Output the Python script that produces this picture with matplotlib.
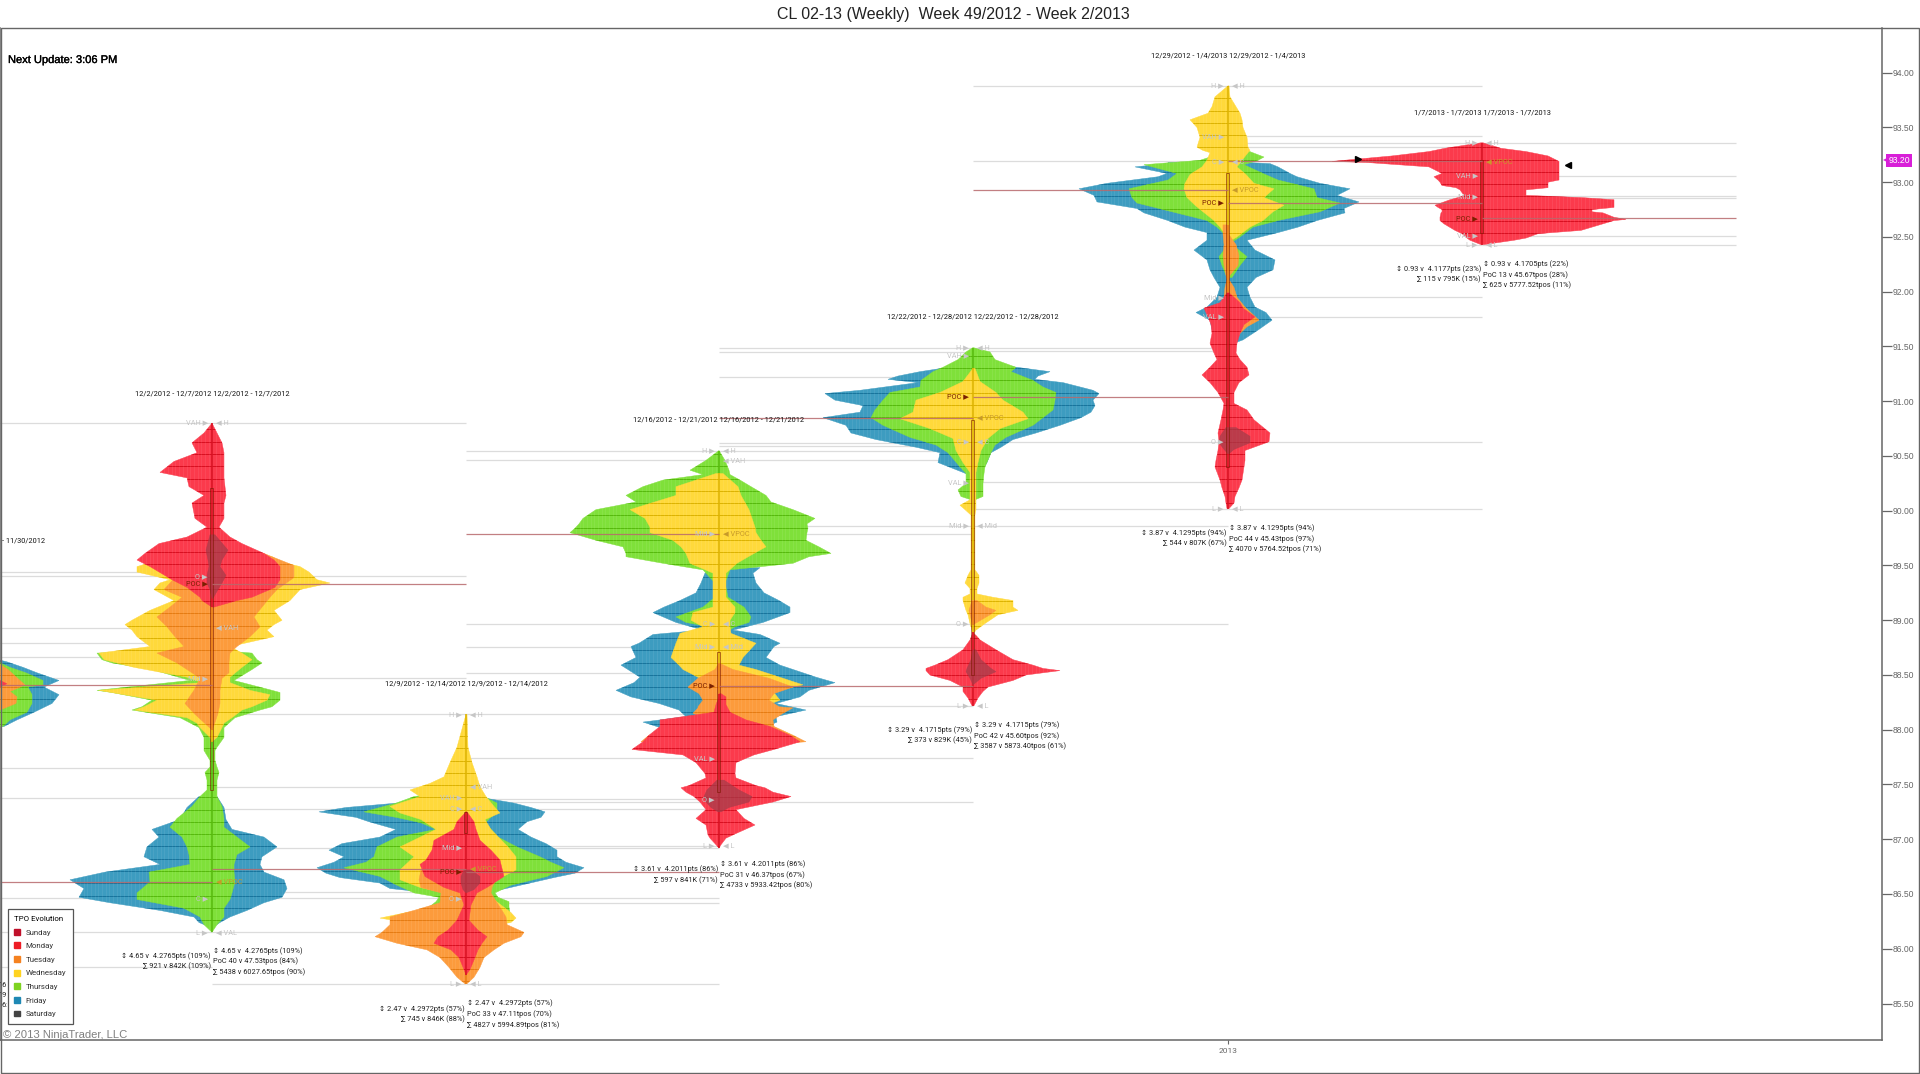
import numpy as np
import matplotlib
matplotlib.use("Agg")
import matplotlib.pyplot as plt
import matplotlib.patheffects as pe
from matplotlib.patches import Patch, Rectangle

plt.rcParams['font.family'] = ['Roboto', 'DejaVu Sans']

TITLE = "CL 02-13 (Weekly)  Week 49/2012 - Week 2/2013"
NEXT_UPDATE = "Next Update: 3:06 PM"
COPYRIGHT = "\u00a9 2013 NinjaTrader, LLC"
LEGEND_TITLE = "TPO Evolution"
DAYS = ["Sunday", "Monday", "Tuesday", "Wednesday", "Thursday", "Friday", "Saturday"]
PRICE_TICKS = [85.5, 86.0, 86.5, 87.0, 87.5, 88.0, 88.5, 89.0, 89.5, 90.0, 90.5, 91.0, 91.5, 92.0, 92.5, 93.0, 93.5, 94.0]
LAST_PRICE = 93.20
SESSION_SLOTS = [-42, 212, 466, 719, 973, 1228, 1482]

# each row: price, width left of centre, width right of centre
P0_FRI = [(88.64,40,40),(88.62,49,49),(88.57,65,65),(88.52,79,79),(88.45,101,101),(88.39,86,86),(88.32,101,101),(88.24,94,94),(88.16,76,76),(88.09,59,59),(88.03,46,46),(88.02,0,0)]
P0_THU = [(88.62,40,40),(88.57,52,52),(88.52,68,68),(88.45,85,85),(88.41,85,85),(88.39,70,70),(88.32,74,74),(88.24,74,74),(88.16,69,69),(88.09,52,52),(88.03,45,45),(88.02,0,0)]
P0_TUE = [(88.61,40,40),(88.55,50,50),(88.45,62,62),(88.41,67,67),(88.38,60,60),(88.35,52,52),(88.30,59,59),(88.24,58,58),(88.18,42,42),(88.15,0,0)]
P0_MON = [(88.45,42,42),(88.42,49,49),(88.39,42,42)]

P1_FRI = [(87.39,13,5),(87.29,25,12),(87.18,32,14),(87.09,60,20),(87.02,53,52),(86.93,65,65),(86.84,68,50),(86.77,52,48),(86.70,107,52),(86.63,142,72),(86.55,128,75),(86.47,133,70),(86.42,102,52),(86.35,52,35),(86.29,18,18),(86.24,13,8),(86.19,0,0)]
P1_THU = [(88.73,0,0),(88.70,115,40),(88.64,110,45),(88.61,100,50),(88.55,60,40),(88.45,22,22),(88.36,115,60),(88.34,100,68),(88.27,60,68),(88.21,70,60),(88.18,80,48),(88.11,32,23),(88.02,13,12),(87.93,8,12),(87.84,8,5),(87.81,8,3),(87.72,2,3),(87.66,2,5),(87.61,7,7),(87.54,5,5),(87.45,5,5),(87.39,12,5),(87.30,20,10),(87.19,35,12),(87.11,42,12),(87.02,30,25),(86.93,25,38),(86.86,23,25),(86.77,22,22),(86.70,63,22),(86.61,62,23),(86.51,75,20),(86.45,75,18),(86.37,28,12),(86.29,12,12),(86.22,8,5),(86.15,0,0)]
P1_WED = [(89.58,0,60),(89.53,60,70),(89.49,75,88),(89.44,75,97),(89.37,42,105),(89.34,52,118),(89.28,58,88),(89.18,38,78),(89.09,62,62),(89.00,80,70),(88.96,87,62),(88.91,80,55),(88.85,75,62),(88.76,62,18),(88.70,113,30),(88.64,108,40),(88.57,78,30),(88.48,25,18),(88.43,10,18),(88.36,113,38),(88.32,88,58),(88.27,55,55),(88.21,68,40),(88.18,77,30),(88.11,25,20),(88.06,15,12),(88.02,12,10),(87.93,2,5),(87.89,0,0)]
P1_TUE = [(89.61,0,52),(89.58,5,60),(89.50,30,82),(89.39,37,82),(89.28,48,65),(89.21,30,58),(89.12,42,50),(89.03,55,42),(88.94,45,48),(88.85,37,38),(88.76,28,25),(88.70,55,18),(88.61,35,17),(88.52,20,17),(88.47,12,10),(88.36,18,8),(88.24,27,8),(88.15,18,6),(88.04,5,2),(88.00,0,0)]
P1_MON = [(90.80,0,0),(90.71,8,5),(90.62,20,10),(90.53,15,12),(90.45,38,12),(90.35,52,12),(90.30,25,12),(90.22,23,13),(90.14,8,14),(90.07,20,12),(89.93,17,12),(89.85,5,7),(89.76,25,18),(89.70,53,30),(89.61,67,52),(89.55,75,62),(89.49,62,68),(89.37,40,68),(89.30,25,63),(89.21,12,40),(89.18,10,25),(89.12,0,2)]
P1_SUN = [(89.78,2,3),(89.64,6,16),(89.55,4,10),(89.49,3,8),(89.41,5,14),(89.34,5,10),(89.28,2,6),(89.20,0,1)]

P2_FRI = [(87.39,10,10),(87.33,69,48),(87.29,120,65),(87.25,147,79),(87.20,110,75),(87.16,97,61),(87.09,70,52),(87.02,86,65),(86.96,124,80),(86.90,137,91),(86.84,122,91),(86.79,132,100),(86.74,149,118),(86.69,140,109),(86.65,126,88),(86.60,86,64),(86.55,76,40),(86.51,35,20),(86.49,0,0)]
P2_THU = [(87.42,30,15),(87.39,52,18),(87.33,70,31),(87.25,102,31),(87.20,70,25),(87.15,45,19),(87.09,30,25),(87.02,69,32),(86.93,89,51),(86.84,92,74),(86.79,100,85),(86.74,122,98),(86.66,86,81),(86.58,69,45),(86.51,52,29),(86.47,27,32),(86.43,30,43),(86.38,37,43),(86.33,19,44),(86.26,5,45),(86.21,0,10),(86.19,0,0)]
P2_WED = [(88.14,0,1),(87.84,9,2),(87.70,16,6),(87.57,22,11),(87.51,36,13),(87.45,56,16),(87.39,46,20),(87.30,76,28),(87.24,66,34),(87.18,45,19),(87.09,30,25),(86.93,66,42),(86.84,52,50),(86.72,66,50),(86.63,66,31),(86.56,46,21),(86.51,22,14),(86.47,10,25),(86.40,10,35),(86.33,60,45),(86.28,86,50),(86.24,60,45),(86.19,20,15),(86.15,0,0)]
P2_TUE = [(86.72,45,25),(86.63,47,30),(86.56,45,26),(86.51,25,25),(86.42,26,31),(86.35,52,36),(86.29,76,40),(86.22,76,41),(86.15,84,58),(86.11,91,55),(86.05,69,38),(85.99,39,28),(85.92,26,18),(85.83,17,14),(85.74,9,8),(85.68,1,1)]
P2_MON = [(87.25,0,1),(87.16,9,8),(87.09,12,10),(86.99,32,14),(86.90,34,25),(86.81,40,34),(86.77,46,35),(86.66,41,38),(86.56,22,21),(86.51,6,11),(86.40,2,5),(86.26,9,3),(86.17,18,12),(86.11,28,21),(86.05,32,16),(85.99,15,12),(85.92,7,9),(85.81,2,4),(85.76,0,0)]
P2_SUN = [(86.72,2,5),(86.66,5,14),(86.60,5,14),(86.54,3,8),(86.51,0,0)]

P3_FRI = [(89.48,8,41),(89.43,14,34),(89.34,18,37),(89.25,23,45),(89.18,39,60),(89.12,55,71),(89.07,66,71),(88.98,43,44),(88.91,16,14),(88.87,66,41),(88.79,80,61),(88.76,88,55),(88.66,83,47),(88.59,98,61),(88.48,79,97),(88.43,85,116),(88.36,103,90),(88.30,88,81),(88.24,60,57),(88.18,40,87),(88.12,33,57),(88.07,76,58),(88.02,59,45),(87.97,30,30),(87.92,0,0)]
P3_THU = [(90.55,0,0),(90.46,13,6),(90.37,29,10),(90.33,16,11),(90.28,56,21),(90.22,76,32),(90.14,93,47),(90.08,83,52),(90.01,123,74),(89.93,136,96),(89.88,140,88),(89.84,144,89),(89.80,149,88),(89.73,123,87),(89.67,96,100),(89.61,93,112),(89.58,93,90),(89.52,56,74),(89.46,16,11),(89.34,4,6),(89.21,4,9),(89.12,16,25),(89.03,43,32),(88.98,33,30),(88.94,10,16),(88.89,3,7),(88.86,0,0)]
P3_WED = [(90.34,3,4),(90.22,43,19),(90.14,43,22),(90.01,89,30),(89.93,74,33),(89.85,69,36),(89.80,69,37),(89.73,46,42),(89.67,38,47),(89.61,33,35),(89.52,29,18),(89.43,6,7),(89.21,6,7),(89.12,6,16),(89.07,26,16),(89.00,28,11),(88.94,16,11),(88.88,39,12),(88.79,43,37),(88.66,48,24),(88.59,40,20),(88.55,36,37),(88.47,19,64),(88.41,25,84),(88.35,15,54),(88.27,10,61),(88.23,5,50),(88.20,0,0)]
P3_TUE = [(88.61,0,0),(88.55,4,14),(88.47,21,50),(88.39,31,74),(88.33,20,55),(88.27,16,50),(88.21,21,60),(88.20,21,74),(88.15,26,64),(88.09,10,54),(88.03,5,55),(87.95,70,74),(87.89,78,87),(87.86,60,40),(87.83,0,0)]
P3_MON = [(88.33,0,2),(88.30,0,7),(88.23,3,7),(88.16,5,11),(88.09,59,27),(88.03,59,51),(87.95,70,71),(87.89,76,81),(87.82,87,55),(87.77,36,35),(87.70,23,17),(87.60,14,16),(87.56,13,17),(87.49,30,37),(87.47,38,46),(87.43,33,54),(87.39,25,72),(87.34,19,54),(87.27,13,17),(87.19,23,25),(87.13,13,36),(87.04,11,14),(87.01,9,7),(86.95,3,2),(86.92,0,0)]
P3_SUN = [(87.54,2,5),(87.45,12,20),(87.39,15,33),(87.34,13,30),(87.29,8,10),(87.25,1,2)]

P4_FRI = [(91.33,10,27),(91.27,53,77),(91.23,75,65),(91.20,85,62),(91.17,55,90),(91.10,113,120),(91.07,148,126),(91.01,138,120),(90.96,110,122),(90.90,113,118),(90.85,150,108),(90.78,127,87),(90.71,122,63),(90.65,97,40),(90.58,57,28),(90.53,33,18),(90.44,35,14),(90.35,10,8),(90.31,0,0)]
P4_THU = [(91.49,0,0),(91.45,7,17),(91.38,15,22),(91.31,30,43),(91.27,40,38),(91.19,52,60),(91.13,53,70),(91.08,83,83),(91.01,90,82),(90.92,98,80),(90.85,102,70),(90.78,90,60),(90.67,63,33),(90.60,37,22),(90.53,25,18),(90.40,13,12),(90.34,7,11),(90.25,7,10),(90.19,15,10),(90.13,12,10),(90.10,2,2),(90.05,0,0)]
P4_WED = [(91.30,0,2),(91.18,10,7),(91.08,33,23),(91.01,57,30),(90.90,60,50),(90.84,73,55),(90.75,43,27),(90.66,20,15),(90.55,17,8),(90.44,10,5),(90.35,3,3),(90.10,3,3),(90.05,13,3),(90.01,8,3),(89.96,2,2),(89.46,2,2),(89.41,5,6),(89.34,8,6),(89.29,3,4),(89.24,3,4),(89.21,10,20),(89.18,10,40),(89.12,8,40),(89.09,7,45),(89.05,5,25),(88.97,3,12),(88.91,1,3),(88.87,0,0)]
P4_TUE = [(89.18,1,4),(89.12,3,13),(89.09,4,23),(89.05,3,17),(88.98,1,4),(88.96,0,0)]
P4_TUE_LOW = [(88.86,0,3),(88.77,1,12),(88.71,1,26),(88.66,0,0)]
P4_MON = [(88.89,0,0),(88.82,3,7),(88.73,10,23),(88.64,25,40),(88.59,38,60),(88.56,47,70),(88.54,47,87),(88.50,43,53),(88.45,23,40),(88.39,10,15),(88.35,10,10),(88.29,5,5),(88.22,1,1)]
P4_SUN = [(88.73,0,3),(88.64,2,8),(88.56,6,18),(88.53,7,23),(88.47,3,8),(88.41,0,0)]

P5_FRI = [(93.18,60,19),(93.17,60,42),(93.14,93,50),(93.08,61,62),(93.05,70,69),(92.99,121,92),(92.94,149,122),(92.88,134,109),(92.82,131,131),(92.76,91,116),(92.72,84,117),(92.65,60,89),(92.59,43,70),(92.54,21,50),(92.47,21,19),(92.38,34,27),(92.29,21,47),(92.20,18,45),(92.13,14,28),(92.04,8,19),(91.95,11,22),(91.86,21,27),(91.81,32,38),(91.74,18,44),(91.65,16,30),(91.56,14,15),(91.51,0,0)]
P5_THU = [(93.29,5,19),(93.23,18,36),(93.20,28,30),(93.16,84,16),(93.08,51,35),(93.02,60,50),(92.94,99,86),(92.86,96,89),(92.81,91,112),(92.73,56,92),(92.65,21,50),(92.59,11,25),(92.50,1,12),(92.44,1,2),(92.38,4,11),(92.32,9,19),(92.24,6,12),(92.13,1,4)]
P5_WED = [(93.88,0,1),(93.78,13,2),(93.69,16,8),(93.63,20,12),(93.57,38,14),(93.50,31,15),(93.41,28,19),(93.32,31,20),(93.29,25,22),(93.27,18,20),(93.20,21,14),(93.14,26,9),(93.07,38,18),(92.99,43,26),(92.94,44,46),(92.86,41,36),(92.79,33,56),(92.73,25,45),(92.65,14,35),(92.59,8,22),(92.50,1,9),(92.45,0,0)]
P5_TUE = [(92.61,5,0),(92.52,5,1),(92.43,4,8),(92.33,5,11),(92.24,4,10),(92.15,2,2),(92.11,1,1),(92.04,3,6),(91.95,4,9),(91.86,5,17),(91.74,8,31),(91.68,6,19),(91.62,2,12),(91.56,1,8),(91.51,0,0)]
P5_MON = [(91.99,1,1),(91.90,8,12),(91.85,24,15),(91.77,20,27),(91.70,17,16),(91.62,16,12),(91.53,18,9),(91.44,14,8),(91.38,11,12),(91.31,18,19),(91.24,26,21),(91.17,18,11),(91.08,10,6),(90.98,4,6),(90.92,5,19),(90.83,7,26),(90.71,10,42),(90.63,9,41),(90.55,10,17),(90.46,12,17),(90.40,13,16),(90.28,8,14),(90.21,6,11),(90.13,3,7),(90.07,2,6),(90.02,1,1)]
P5_SUN = [(90.76,2,8),(90.68,8,22),(90.62,9,22),(90.56,4,6),(90.52,0,1)]

P6_MON = [(93.36,1,1),(93.31,37,19),(93.28,53,44),(93.24,90,66),(93.19,150,77),(93.18,115,77),(93.14,53,77),(93.08,40,77),(93.05,48,77),(93.02,44,77),(93.00,42,66),(92.97,40,66),(92.95,26,66),(92.93,22,44),(92.88,18,44),(92.86,24,99),(92.84,32,132),(92.79,47,132),(92.77,44,132),(92.75,40,110),(92.73,40,110),(92.72,41,121),(92.68,42,132),(92.66,42,144),(92.65,42,132),(92.62,38,121),(92.56,27,99),(92.53,20,56),(92.49,15,44),(92.47,12,32),(92.43,1,2)]

GAP0_LEVELS = [90.80,89.44,89.40,88.93,88.79,88.66,88.47,87.65,87.38,86.46,86.15,85.83]
GAP0_POC = [88.41,86.61]
GAP1_LEVELS = [90.80,89.40,88.47,88.14,87.48,87.28,86.92,86.52,86.46,86.15,85.68]
GAP1_POC = [89.33,86.73]
GAP2_LEVELS = [90.55,90.46,88.97,88.76,88.52,88.14,87.74,87.37,87.34,87.28,86.94,86.92,86.46,86.42,85.68]
GAP2_POC = [89.79,86.70]
GAP3_LEVELS = [91.49,91.45,91.22,90.62,90.59,90.55,90.46,89.86,89.79,88.97,88.76,88.22,87.74,87.34]
GAP3_POC = [90.85,88.40]
GAP4_LEVELS = [93.88,93.19,91.49,91.46,90.63,90.26,90.02,89.86,88.97]
GAP4_POC = [92.93,91.04]
GAP5_LEVELS = [93.88,93.42,93.36,93.32,92.87,92.86,92.43,91.95,91.77,90.63,90.02]
GAP5_POC = [93.19,92.81]
GAP6_LEVELS = [93.36,93.06,92.87,92.86,92.51,92.43]
GAP6_POC = [92.67]

P1_LEFT_LABELS = [(90.80,"VAH"),(89.40,"O"),(89.33,"POC"),(88.47,"Mid"),(86.46,"C"),(86.15,"L")]
P1_RIGHT_LABELS = [(90.80,"H"),(88.93,"VAH"),(86.61,"VPOC"),(86.15,"VAL")]
P2_LEFT_LABELS = [(88.14,"H"),(87.38,"VAH"),(87.28,"C"),(86.92,"Mid"),(86.70,"POC"),(86.46,"O"),(85.68,"L")]
P2_RIGHT_LABELS = [(88.14,"H"),(87.48,"VAH"),(87.28,"C"),(86.73,"VPOC"),(85.68,"L")]
P3_LEFT_LABELS = [(90.55,"H"),(89.79,"Mid"),(88.97,"C"),(88.76,"Mid"),(88.40,"POC"),(87.74,"VAL"),(87.36,"O"),(86.94,"L")]
P3_RIGHT_LABELS = [(90.55,"H"),(90.46,"VAH"),(89.79,"VPOC"),(88.97,"C"),(88.76,"Mid"),(86.94,"L")]
P4_LEFT_LABELS = [(91.49,"H"),(91.42,"VAH"),(91.04,"POC"),(90.63,"C"),(90.26,"VAL"),(89.86,"Mid"),(88.97,"O"),(88.22,"L")]
P4_RIGHT_LABELS = [(91.49,"H"),(90.85,"VPOC"),(90.63,"C"),(89.86,"Mid"),(88.22,"L")]
P5_LEFT_LABELS = [(93.88,"H"),(93.42,"VAH"),(93.19,"C"),(92.81,"POC"),(91.95,"Mid"),(91.77,"VAL"),(90.63,"O"),(90.02,"L")]
P5_RIGHT_LABELS = [(93.88,"H"),(93.19,"C"),(92.93,"VPOC"),(90.02,"L")]
P6_LEFT_LABELS = [(93.36,"H"),(93.06,"VAH"),(92.87,"Mid"),(92.67,"POC"),(92.51,"VAL"),(92.43,"L")]
P6_RIGHT_LABELS = [(93.36,"H"),(93.19,"VPOC"),(92.43,"L")]

VALUE_AREAS = [(90.21,87.45),(87.25,87.06),(88.71,87.43),(90.83,88.50),(93.08,90.40),(93.20,92.54)]

SESSION_TITLES = ["12/2/2012 - 12/7/2012 12/2/2012 - 12/7/2012","12/9/2012 - 12/14/2012 12/9/2012 - 12/14/2012",
                  "12/16/2012 - 12/21/2012 12/16/2012 - 12/21/2012","12/22/2012 - 12/28/2012 12/22/2012 - 12/28/2012",
                  "12/29/2012 - 1/4/2013 12/29/2012 - 1/4/2013","1/7/2013 - 1/7/2013 1/7/2013 - 1/7/2013"]
TITLE_PRICES = [91.07,88.42,90.83,91.77,94.15,93.63]
STATS_RIGHT = [["\u2195 4.65 v  4.2765pts (109%)","PoC 40 v 47.53tpos (84%)","\u2211 5438 v 6027.65tpos (90%)"],
               ["\u2195 2.47 v  4.2972pts (57%)","PoC 33 v 47.11tpos (70%)","\u2211 4827 v 5994.89tpos (81%)"],
               ["\u2195 3.61 v  4.2011pts (86%)","PoC 31 v 46.37tpos (67%)","\u2211 4733 v 5933.42tpos (80%)"],
               ["\u2195 3.29 v  4.1715pts (79%)","PoC 42 v 45.60tpos (92%)","\u2211 3587 v 5873.40tpos (61%)"],
               ["\u2195 3.87 v  4.1295pts (94%)","PoC 44 v 45.43tpos (97%)","\u2211 4070 v 5764.52tpos (71%)"],
               ["\u2195 0.93 v  4.1705pts (22%)","PoC 13 v 45.67tpos (28%)","\u2211 625 v 5777.52tpos (11%)"]]
STATS_LEFT = [["\u2195 4.65 v  4.2765pts (109%)","\u2211 921 v 842K (109%)"],
              ["\u2195 2.47 v  4.2972pts (57%)","\u2211 745 v 846K (88%)"],
              ["\u2195 3.61 v  4.2011pts (86%)","\u2211 597 v 841K (71%)"],
              ["\u2195 3.29 v  4.1715pts (79%)","\u2211 373 v 829K (45%)"],
              ["\u2195 3.87 v  4.1295pts (94%)","\u2211 544 v 807K (67%)"],
              ["\u2195 0.93 v  4.1177pts (23%)","\u2211 115 v 795K (15%)"]]
STATS_PRICES = [85.98,85.50,86.77,88.04,89.84,92.25]

# ---- styling
W, H = 1920, 1074
AX_L, AX_R, AX_T, AX_B = 0, 1882, 27.5, 1040
Y_AT = lambda y: 94.664 - 0.009132 * y
FACE = {"sun":"#a33c4a","mon":"#fb3a4c","tue":"#fc9b3c","wed":"#ffd93b","thu":"#7fe03a","fri":"#3d9cc0"}
DARK = {"sun":"#7d1d28","mon":"#d80f20","tue":"#e67c12","wed":"#dcb200","thu":"#56b90c","fri":"#17749c"}
LEGEND_COLORS = ["#c0102a","#ee1c25","#f58220","#ffd320","#7ed321","#1e88b4","#444444"]
SMALL = 5.35

PROFILES = [
    (0, [("fri",P0_FRI),("thu",P0_THU),("tue",P0_TUE),("mon",P0_MON)]),
    (1, [("fri",P1_FRI),("thu",P1_THU),("wed",P1_WED),("tue",P1_TUE),("mon",P1_MON),("sun",P1_SUN)]),
    (2, [("fri",P2_FRI),("thu",P2_THU),("wed",P2_WED),("tue",P2_TUE),("mon",P2_MON),("sun",P2_SUN)]),
    (3, [("fri",P3_FRI),("thu",P3_THU),("wed",P3_WED),("tue",P3_TUE),("mon",P3_MON),("sun",P3_SUN)]),
    (4, [("fri",P4_FRI),("thu",P4_THU),("wed",P4_WED),("tue",P4_TUE),("tue",P4_TUE_LOW),("mon",P4_MON),("sun",P4_SUN)]),
    (5, [("fri",P5_FRI),("thu",P5_THU),("wed",P5_WED),("tue",P5_TUE),("mon",P5_MON),("sun",P5_SUN)]),
    (6, [("mon",P6_MON)]),
]
GAPS = [(GAP0_LEVELS,GAP0_POC),(GAP1_LEVELS,GAP1_POC),(GAP2_LEVELS,GAP2_POC),(GAP3_LEVELS,GAP3_POC),
        (GAP4_LEVELS,GAP4_POC),(GAP5_LEVELS,GAP5_POC),(GAP6_LEVELS,GAP6_POC)]
LABELS = [(P1_LEFT_LABELS,P1_RIGHT_LABELS),(P2_LEFT_LABELS,P2_RIGHT_LABELS),(P3_LEFT_LABELS,P3_RIGHT_LABELS),
          (P4_LEFT_LABELS,P4_RIGHT_LABELS),(P5_LEFT_LABELS,P5_RIGHT_LABELS),(P6_LEFT_LABELS,P6_RIGHT_LABELS)]

fig = plt.figure(figsize=(W/100, H/100), dpi=100, facecolor="white")
ax = fig.add_axes([AX_L/W, 1-AX_B/H, (AX_R-AX_L)/W, (AX_B-AX_T)/H])
ax.set_xlim(AX_L, AX_R)
ax.set_ylim(Y_AT(AX_B), Y_AT(AX_T))
ax.spines["top"].set_visible(False)
for s in ("left","right","bottom"):
    ax.spines[s].set_color("#666666")
    ax.spines[s].set_linewidth(1.1)
ax.yaxis.tick_right()
ax.set_yticks(PRICE_TICKS)
ax.set_yticklabels([f"{v:.2f}" for v in PRICE_TICKS], fontsize=6.2, color="#666666", fontfamily=['Liberation Sans'])
ax.tick_params(axis="y", length=7, width=0.9, color="#666666", pad=1)
ax.set_xticks([SESSION_SLOTS[5]])
ax.set_xticklabels(["2013"], fontsize=6.0, color="#666666")
ax.tick_params(axis="x", length=3, width=0.8, color="#666666", pad=3)

# level lines between neighbouring sessions
for i, (levels, pocs) in enumerate(GAPS):
    if i == 0:
        x0, x1 = 0, SESSION_SLOTS[1]
    elif i < 6:
        x0, x1 = SESSION_SLOTS[i], SESSION_SLOTS[i+1]
    else:
        x0, x1 = SESSION_SLOTS[6], SESSION_SLOTS[6] + 254
    ax.hlines(levels, x0, x1, colors="#dcdcdc", lw=0.9, zorder=1)
    ax.hlines(pocs, x0, x1, colors="#b8696c", lw=0.9, alpha=0.85, zorder=40)

stripes = np.arange(85.03, 94.5, 0.112)
z = 2.0
for idx, layers in PROFILES:
    cx = SESSION_SLOTS[idx]
    for day, rows in layers:
        r = np.array(rows, dtype=float)
        xs = np.concatenate([cx - r[:,1], (cx + r[:,2])[::-1]])
        yy = np.concatenate([r[:,0], r[:,0][::-1]])
        alpha = 0.72 if day == "sun" else 1
        poly = ax.fill(xs, yy, facecolor=FACE[day], edgecolor=FACE[day], lw=0.3, alpha=alpha, zorder=z)[0]
        if day != "sun":
            vis = stripes[(stripes > r[:,0].min()) & (stripes < r[:,0].max())]
            hl = ax.hlines(vis, cx-220, cx+220, colors=DARK[day], lw=0.7, zorder=z+0.1)
            hl.set_clip_path(poly)
            vl = ax.vlines(np.arange(cx-220, cx+220, 3.67), r[:,0].min(), r[:,0].max(), colors="white", lw=0.5, alpha=0.10, zorder=z+0.2)
            vl.set_clip_path(poly)
            ax.vlines(cx, r[:,0].min(), r[:,0].max(), colors=DARK[day], lw=1.1, zorder=z+0.3)
        z += 1

# value area boxes
for i, (top, bottom) in enumerate(VALUE_AREAS):
    cx = SESSION_SLOTS[i+1]
    ax.add_patch(Rectangle((cx-1.5, bottom), 3.0, top-bottom, facecolor="none", edgecolor="#7a1800", alpha=0.6, lw=0.7, zorder=38))

# level labels
lab_kw = dict(fontsize=SMALL, va="center", zorder=45)
for i, (left, right) in enumerate(LABELS):
    cx = SESSION_SLOTS[i+1]
    for p, t in left:
        col = "#7a2000" if t == "POC" else "#c6c6c6"
        ax.text(cx-4, p, f"{t} \u25b6", ha="right", color=col, **lab_kw)
    for p, t in right:
        col = "#c79a2a" if t == "VPOC" else "#c6c6c6"
        ax.text(cx+4, p, f"\u25c0 {t}", ha="left", color=col, **lab_kw)

# session titles and statistics
for i, cx in enumerate(SESSION_SLOTS[1:]):
    ax.text(cx, TITLE_PRICES[i], SESSION_TITLES[i], ha="center", va="center", fontsize=SMALL, color="#111111", zorder=50)
    for j, s in enumerate(STATS_RIGHT[i]):
        ax.text(cx+1, STATS_PRICES[i]-j*0.096, s, ha="left", va="center", fontsize=SMALL, color="#222222", zorder=50)
    for j, s in enumerate(STATS_LEFT[i]):
        ax.text(cx-1, STATS_PRICES[i]-0.046-j*0.096, s, ha="right", va="center", fontsize=SMALL, color="#222222", zorder=50)
ax.text(2, 89.72, "- 11/30/2012", ha="left", va="center", fontsize=SMALL, color="#111111")
for p, s in zip([85.66, 85.57, 85.48], ["16", "19", "6:"]):
    ax.text(7, p, s, ha="right", va="center", fontsize=SMALL, color="#222222", zorder=5)

# cursor markers
ax.plot([1358], [93.21], marker=">", color="black", ms=4.5, zorder=60, clip_on=False)
ax.plot([1568], [93.16], marker="<", color="black", ms=4.5, zorder=60, clip_on=False)

# last price tag
ax.plot([1888], [LAST_PRICE], marker="<", color="#d81fd8", ms=7, mew=0, zorder=69, clip_on=False)
ax.annotate(f"{LAST_PRICE:.2f}", xy=(1899, LAST_PRICE), xycoords="data", annotation_clip=False,
            ha="center", va="center", fontsize=6.2, color="white", zorder=70, fontfamily=['Liberation Sans'],
            bbox=dict(boxstyle="square,pad=0.22", fc="#d81fd8", ec="#d81fd8", lw=0))

# legend
hs = [Patch(facecolor=c, edgecolor=c, label=d) for c, d in zip(LEGEND_COLORS, DAYS)]
leg = fig.legend(handles=hs, title=LEGEND_TITLE, loc="lower left", bbox_to_anchor=(7.5/W, (H-1024)/H),
                 fontsize=5.7, title_fontsize=5.7, frameon=True, fancybox=False, edgecolor="#555555", framealpha=1,
                 handlelength=0.75, handleheight=0.75, handletextpad=0.7, labelspacing=0.88, borderpad=0.85, borderaxespad=0)
leg.get_frame().set_linewidth(0.9)
leg.set_zorder(100)
leg._legend_box.align = "left"
for t in leg.get_texts():
    t.set_color("#333333")

fig.text(953/W, 1-14.5/H, TITLE, ha="center", va="center", fontsize=11.5, color="#222222", fontfamily=['Liberation Sans'])
nu = fig.text(8/W, 1-60/H, NEXT_UPDATE, ha="left", va="center", fontsize=8, color="black", fontfamily=['Liberation Sans'])
nu.set_path_effects([pe.withStroke(linewidth=0.25, foreground="black")])
fig.text(3/W, 1-1034.5/H, COPYRIGHT, ha="left", va="center", fontsize=8.1, color="#808080", fontfamily=['Liberation Sans'], zorder=101)

# outer frame
fig.add_artist(Rectangle((0.5/W, 1-1073/H), 1918.5/W, (1073-27.5)/H, transform=fig.transFigure, fill=False, edgecolor="#666666", lw=1.0))

fig.savefig("out.png", dpi=100, facecolor="white")
